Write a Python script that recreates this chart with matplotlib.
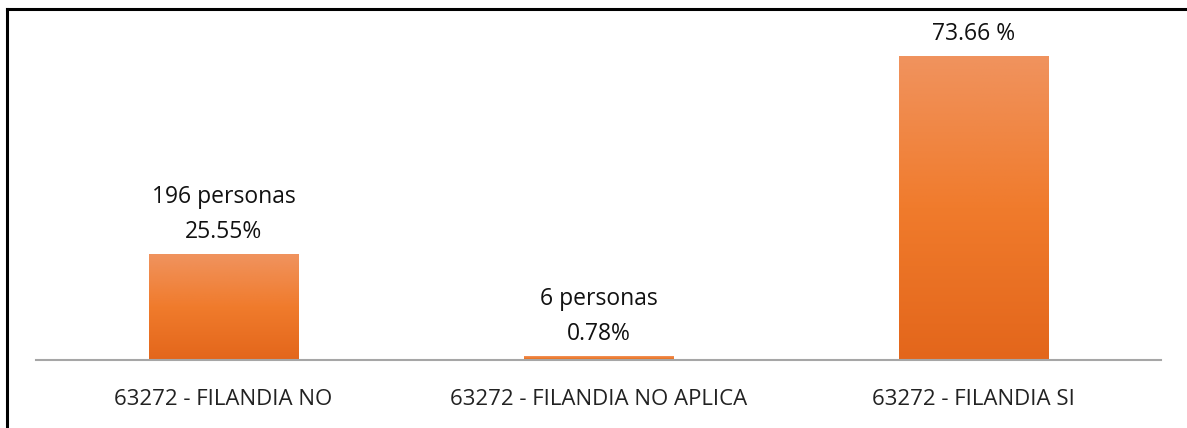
import numpy as np
import matplotlib.pyplot as plt
from matplotlib.colors import LinearSegmentedColormap
from matplotlib.lines import Line2D

categorias = ['63272 - FILANDIA NO', '63272 - FILANDIA NO APLICA', '63272 - FILANDIA SI']
porcentajes = [25.55, 0.78, 73.66]
etiquetas = ['196 personas\n25.55%', '6 personas\n0.78%', '73.66 %']

plt.rcParams['font.family'] = ['Open Sans', 'DejaVu Sans']

fig = plt.figure(figsize=(11.87, 4.28), dpi=100)
ax = fig.add_axes([36/1187, 68/428, 1125/1187, 350/428])

x = np.arange(len(categorias))
ancho = 0.4
barras = ax.bar(x, porcentajes, width=ancho, color='none', zorder=2)

# degradado naranja en cada barra
cmap = LinearSegmentedColormap.from_list('nar', ['#e3661b', '#f07b2c', '#f0935e'])
grad = np.linspace(0, 1, 256).reshape(-1, 1)
for b in barras:
    x0, y0 = b.get_x(), b.get_y()
    ax.imshow(grad, extent=[x0, x0 + b.get_width(), y0, y0 + b.get_height()],
              origin='lower', cmap=cmap, aspect='auto', zorder=2)

for xi, p, txt in zip(x, porcentajes, etiquetas):
    ax.annotate(txt, (xi, p), xytext=(0, 8), textcoords='offset points',
                ha='center', va='bottom', fontsize=16.5, color='#111111',
                linespacing=1.6)

ax.set_xlim(-0.5, 2.5)
ax.set_ylim(0, 85)
ax.set_xticks(x)
ax.set_xticklabels(categorias, fontsize=16, color='#222222')
ax.tick_params(axis='x', length=0, pad=21)
ax.set_yticks([])
for s in ['top', 'right', 'left']:
    ax.spines[s].set_visible(False)
ax.spines['bottom'].set_color('#a6a6a6')
ax.spines['bottom'].set_linewidth(1.5)

# marco recortado del gráfico original
fig.add_artist(Line2D([6.5/1187, 6.5/1187], [0, 1 - 9/428], transform=fig.transFigure,
                      color='black', lw=2.2))
fig.add_artist(Line2D([6.5/1187, 1185/1187], [1 - 9/428, 1 - 9/428], transform=fig.transFigure,
                      color='black', lw=2.2))

fig.savefig('out.png', dpi=100)
